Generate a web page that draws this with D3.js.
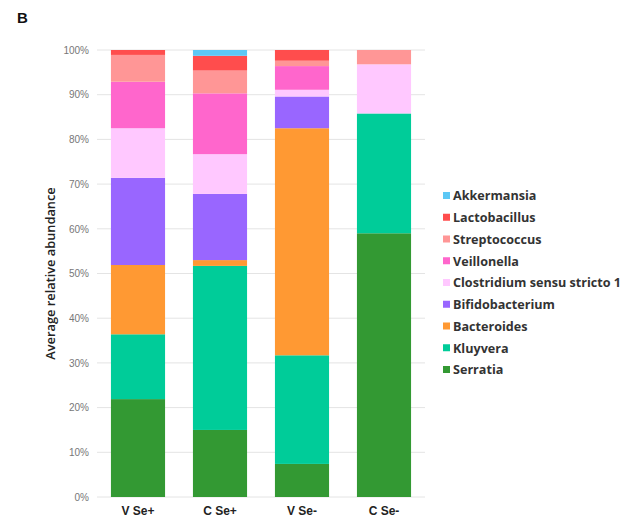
<!DOCTYPE html>
<html>
<head>
<meta charset="utf-8">
<script src="https://cdn.jsdelivr.net/npm/d3@7"></script>
<style>
  html, body { margin: 0; padding: 0; background: #fff; }
  svg { display: block; font-family: "Liberation Sans", Arial, sans-serif; }
</style>
</head>
<body>
<svg id="chart" width="631" height="521"></svg>
<script>
// Sample groups (x axis)
const groups = ["V Se+", "C Se+", "V Se-", "C Se-"];

// Genera, stacked bottom to top
const genera = ["Serratia", "Kluyvera", "Bacteroides", "Bifidobacterium",
  "Clostridium sensu stricto 1", "Veillonella", "Streptococcus", "Lactobacillus", "Akkermansia"];

// Average relative abundance (%) per genus, one value per group
const serratia      = [21.9, 15.0,  7.4, 59.0];
const kluyvera      = [14.5, 36.7, 24.3, 26.8];
const bacteroides   = [15.5,  1.3, 50.8,  0.0];
const bifidobacterium = [19.5, 14.8,  7.1,  0.0];
const clostridium   = [11.1,  8.9,  1.5, 11.0];
const veillonella   = [10.4, 13.6,  5.3,  0.0];
const streptococcus = [ 6.0,  5.1,  1.2,  3.2];
const lactobacillus = [ 1.1,  3.3,  2.4,  0.0];
const akkermansia   = [ 0.0,  1.3,  0.0,  0.0];

const colors = ["#339933", "#00cc99", "#ff9933", "#9966ff", "#ffc8ff",
  "#ff66cc", "#ff9696", "#ff4d4d", "#5cc8f5"];

const yTicks = [0, 10, 20, 30, 40, 50, 60, 70, 80, 90, 100];

const seriesValues = [serratia, kluyvera, bacteroides, bifidobacterium, clostridium,
  veillonella, streptococcus, lactobacillus, akkermansia];

const rows = groups.map((g, i) => {
  const r = { group: g };
  genera.forEach((name, k) => { r[name] = seriesValues[k][i]; });
  return r;
});

const svg = d3.select("#chart");
const margin = { left: 97, right: 206, top: 50, bottom: 24 };
const W = 631, H = 521;

const x = d3.scaleBand().domain(groups)
  .range([margin.left, W - margin.right]).paddingInner(0.34).paddingOuter(0.17);
const y = d3.scaleLinear().domain([0, 100]).range([H - margin.bottom, margin.top]);

// Panel letter
svg.append("text").attr("x", 17).attr("y", 23)
  .attr("font-size", 15).attr("font-weight", "bold").attr("fill", "#111").text("B");

// Gridlines
svg.append("g").selectAll("line").data(yTicks).join("line")
  .attr("x1", margin.left).attr("x2", W - margin.right)
  .attr("y1", d => y(d)).attr("y2", d => y(d))
  .attr("stroke", "#e4e4e4").attr("stroke-width", 1);

// Y axis labels
const yAxis = d3.axisLeft(y).tickValues(yTicks).tickFormat(d => d + "%").tickSize(0).tickPadding(8);
const yg = svg.append("g").attr("transform", `translate(${margin.left},0)`).call(yAxis);
yg.select(".domain").remove();
yg.selectAll("text").attr("font-size", 10).attr("fill", "#777")
  .attr("font-family", "'Liberation Sans', Arial, sans-serif");

// Y axis title
svg.append("text")
  .attr("transform", `translate(55,${(y(0) + y(100)) / 2}) rotate(-90)`)
  .attr("text-anchor", "middle").attr("font-size", 12.8).attr("font-weight", 600)
  .attr("font-family", "'Open Sans', sans-serif").attr("fill", "#222")
  .text("Average relative abundance");

// Stacked bars
const stack = d3.stack().keys(genera);
const layers = stack(rows);
svg.append("g").selectAll("g").data(layers).join("g")
  .attr("fill", (d, i) => colors[i])
  .selectAll("rect").data(d => d).join("rect")
  .attr("x", d => x(d.data.group))
  .attr("width", x.bandwidth())
  .attr("y", d => y(d[1]))
  .attr("height", d => y(d[0]) - y(d[1]));

// X axis labels
const xAxis = d3.axisBottom(x).tickSize(0).tickPadding(9);
const xg = svg.append("g").attr("transform", `translate(0,${y(0)})`).call(xAxis);
xg.select(".domain").remove();
xg.selectAll("text").attr("font-size", 12).attr("font-weight", "bold").attr("fill", "#222")
  .attr("font-family", "'Liberation Sans', Arial, sans-serif");

// Legend (top entry is the top of the stack)
const legendItems = genera.map((g, i) => ({ name: g, color: colors[i] })).reverse();
const lg = svg.append("g").attr("transform", "translate(443,196)");
const item = lg.selectAll("g").data(legendItems).join("g")
  .attr("transform", (d, i) => `translate(0,${i * 21.75})`);
item.append("rect").attr("x", 0).attr("y", -4).attr("width", 7).attr("height", 7)
  .attr("fill", d => d.color);
item.append("text").attr("x", 10).attr("y", 0).attr("dy", "0.35em")
  .attr("font-size", 12.6).attr("font-weight", "bold").attr("fill", "#333")
  .attr("font-family", "'Open Sans', sans-serif")
  .text(d => d.name);
</script>
</body>
</html>
